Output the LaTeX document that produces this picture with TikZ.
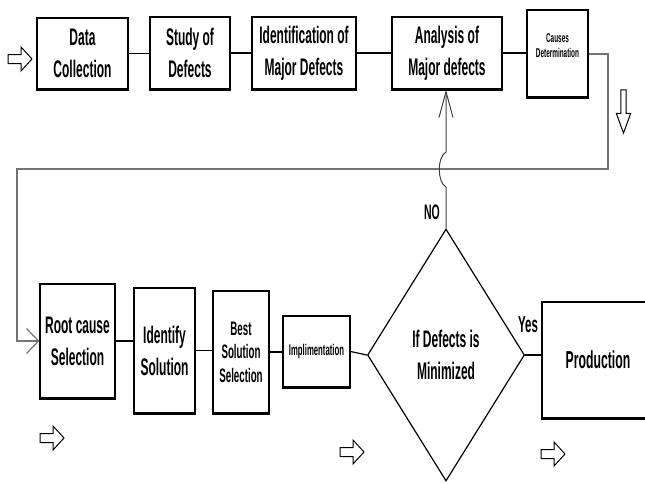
\documentclass[tikz,border=0pt]{standalone}
\usepackage{fontspec}
\setmainfont{Liberation Sans}[FakeStretch=0.5]
\usetikzlibrary{calc,shapes.geometric,arrows.meta}
\def\fs#1#2{\fontsize{#1}{#2}\selectfont}
\tikzset{
  box/.style={draw, line width=1.3pt, inner sep=1pt, align=center, font=\bfseries\fs{24}{32},
    append after command={(\tikzlastnode.south west) edge[line width=2.8pt] (\tikzlastnode.south east)}},
  decision/.style={diamond, draw, line width=1.2pt, minimum width=157pt, minimum height=252pt,
    inner sep=0pt, align=center, font=\bfseries\fs{24}{32}},
  link/.style={line width=1.2pt},
  loopline/.style={line width=2pt, color=black!55},
  backline/.style={line width=1pt, color=black!75},
  hollow/.pic={\draw[line width=1pt, fill=white] (-12,-4.5) -- (1,-4.5) -- (1,-12) -- (12,0) -- (1,12) -- (1,4.5) -- (-12,4.5) -- cycle;}
}
\begin{document}
\begin{tikzpicture}[x=1pt,y=-1pt]
  \useasboundingbox (0,0) rectangle (645,483);
  %%%%% TOP ROW %%%%%
  \node[box, minimum width=91pt, minimum height=71pt] (data) at (82.5,53.5) {Data\\Collection};
  \node[box, minimum width=80pt, minimum height=72pt] (study) at (190,53) {Study of\\Defects};
  \node[box, minimum width=104pt, minimum height=72pt] (ident) at (304,53) {Identification of\\Major Defects};
  \node[box, minimum width=110pt, minimum height=72pt] (analysis) at (447,53) {Analysis of\\Major defects};
  \node[box, minimum width=61pt, minimum height=87pt, font=\bfseries\fs{12.8}{15}] (causes) at (557.5,53.5) {Causes\\Determination\\~};
  %%%%% BOTTOM ROW %%%%%
  \node[box, minimum width=75pt, minimum height=114pt] (root) at (77.5,341) {Root cause\\Selection};
  \node[box, minimum width=61pt, minimum height=125pt] (identify) at (164.5,350.5) {Identify\\Solution};
  \node[box, minimum width=56pt, minimum height=122pt, font=\bfseries\fs{19.5}{23.5}] (best) at (241,352) {Best\\Solution\\Selection};
  \node[box, minimum width=67pt, minimum height=71pt, font=\bfseries\fs{15.5}{18}] (impl) at (316.5,351.5) {Implimentation};
  \node[decision] (dia) at (446,355) {If Defects is\\Minimized};
  \node[box, minimum width=112pt, minimum height=116pt, font=\bfseries\fs{24.5}{30}] (prod) at (598,360) {Production};
  \node[font=\bfseries\fs{21}{22}] (nolbl) at (432,212) {NO};
  \node[font=\bfseries\fs{23}{24}] (yeslbl) at (528,325) {Yes};
  %%%%% CONNECTORS %%%%%
  \draw[link] (data.east) -- (data.east -| study.west);
  \draw[link] (study.east) -- (study.east -| ident.west);
  \draw[link] (ident.east) -- (ident.east -| analysis.west);
  \draw[link] (analysis.east) -- (analysis.east -| causes.west);
  \draw[link] (root.east) -- (root.east -| identify.west);
  \draw[link] (identify.east) -- (identify.east -| best.west);
  \draw[link] (best.east) -- (best.east -| impl.west);
  \draw[link] (impl.east) -- (dia.west);
  \draw[link] (dia.east) -- (dia.east -| prod.west);
  \coordinate (tr) at (608,169);
  \coordinate (tl) at (17,169);
  \draw[loopline, -{Straight Barb[length=12pt, width=25pt, line width=1.2pt]}] (causes.east) -| (tr) -- (tl) |- (root.west);
  \coordinate (hopbot) at (dia.north |- 0,187);
  \coordinate (hoptop) at (dia.north |- 0,152);
  \draw[backline, -{Straight Barb[length=26pt, width=14pt]}] (dia.north) -- (hopbot) .. controls (437,182) and (437,157) .. (hoptop) -- (hoptop |- analysis.south);
  %%%%% HOLLOW ARROWS %%%%%
  \pic at (20,59) {hollow};
  \pic[rotate=-90, xscale=1.8, yscale=0.6] at (623.5,111.5) {hollow};
  \pic at (52,438) {hollow};
  \pic at (352,452) {hollow};
  \pic at (553,454) {hollow};
\end{tikzpicture}
\end{document}
